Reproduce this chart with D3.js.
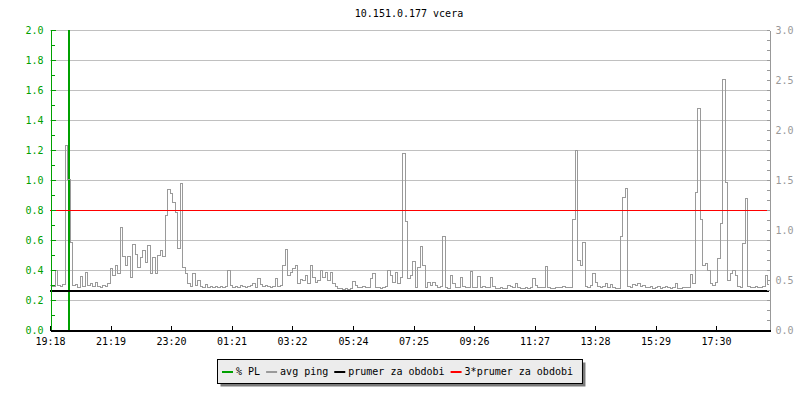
<!DOCTYPE html>
<html><head><meta charset="utf-8">
<script src="https://cdn.jsdelivr.net/npm/d3@7"></script>
<style>
body{margin:0;background:#fff}
svg{display:block}
text{font-family:"DejaVu Sans Mono",monospace;font-size:10px}
</style></head><body>
<svg id="chart" width="800" height="400"></svg>
<script>
// ---------------- data ----------------
const title = "10.151.0.177 vcera";
const xTickLabels = ["19:18","21:19","23:20","01:21","03:22","05:24","07:25","09:26","11:27","13:28","15:29","17:30"];
const periodMinutes = 1440;
const sampleMinutes = 5;
const leftTicks = [0.0,0.2,0.4,0.6,0.8,1.0,1.2,1.4,1.6,1.8,2.0];
const rightTicks = [0.0,0.5,1.0,1.5,2.0,2.5,3.0];
const legendLabels = ["% PL","avg ping","prumer za obdobi","3*prumer za obdobi"];
const pingMean = 0.4;
// avg ping, one value per 5 minutes (right axis)
const avgPing = [
0.45,0.44,0.60,0.45,0.44,0.46,1.85,1.51,0.88,0.45,
0.46,0.43,0.54,0.44,0.58,0.45,0.47,0.44,0.48,0.44,
0.43,0.45,0.44,0.47,0.62,0.55,0.65,0.57,1.03,0.74,
0.65,0.74,0.53,0.86,0.76,0.63,0.73,0.80,0.68,0.85,
0.57,0.73,0.57,0.75,0.80,0.74,1.15,1.41,1.37,1.28,
1.18,0.82,1.47,0.63,0.57,0.47,0.44,0.57,0.45,0.50,
0.44,0.43,0.46,0.43,0.44,0.43,0.44,0.43,0.44,0.43,
0.44,0.60,0.45,0.43,0.44,0.43,0.45,0.44,0.43,0.44,
0.45,0.47,0.43,0.52,0.46,0.44,0.45,0.44,0.43,0.44,
0.52,0.44,0.45,0.65,0.81,0.55,0.58,0.62,0.65,0.47,
0.51,0.50,0.55,0.47,0.65,0.53,0.48,0.50,0.60,0.53,
0.58,0.50,0.58,0.47,0.44,0.42,0.42,0.41,0.42,0.41,
0.42,0.49,0.45,0.43,0.43,0.44,0.43,0.43,0.52,0.57,
0.43,0.43,0.42,0.43,0.44,0.60,0.55,0.48,0.58,0.47,
0.53,1.77,1.09,0.52,0.55,0.69,0.43,0.63,0.84,0.65,
0.43,0.48,0.45,0.48,0.45,0.43,0.44,0.94,0.43,0.42,
0.55,0.47,0.43,0.43,0.53,0.44,0.43,0.43,0.59,0.43,
0.43,0.54,0.43,0.44,0.43,0.43,0.53,0.44,0.42,0.42,
0.43,0.42,0.42,0.45,0.44,0.43,0.47,0.43,0.42,0.42,
0.43,0.42,0.43,0.52,0.45,0.43,0.43,0.43,0.64,0.43,
0.42,0.42,0.43,0.43,0.43,0.44,0.43,0.43,0.43,1.11,
1.80,0.70,0.65,0.88,0.44,0.43,0.45,0.57,0.48,0.44,
0.43,0.44,0.47,0.43,0.46,0.43,0.42,0.42,0.94,1.33,
1.42,0.44,0.43,0.46,0.45,0.47,0.44,0.45,0.43,0.43,
0.44,0.42,0.43,0.44,0.42,0.43,0.44,0.43,0.42,0.43,
0.47,0.42,0.42,0.43,0.43,0.43,0.56,0.47,1.38,2.22,
1.11,0.65,0.67,0.60,0.47,0.45,0.48,0.72,1.07,2.51,
1.48,0.50,0.57,0.60,0.55,0.44,0.43,0.87,1.32,0.44,
0.43,0.43,0.44,0.43,0.43,0.44,0.55,0.46
];
// packet loss %, one value per 5 minutes (left axis)
const packetLoss = [
0,0,0,0,0,0,0,25,0,0, 0,0,0,0,0,0,0,0,0,0, 0,0,0,0,0,0,0,0,0,0,
0,0,0,0,0,0,0,0,0,0, 0,0,0,0,0,0,0,0,0,0, 0,0,0,0,0,0,0,0,0,0,
0,0,0,0,0,0,0,0,0,0, 0,0,0,0,0,0,0,0,0,0, 0,0,0,0,0,0,0,0,0,0,
0,0,0,0,0,0,0,0,0,0, 0,0,0,0,0,0,0,0,0,0, 0,0,0,0,0,0,0,0,0,0,
0,0,0,0,0,0,0,0,0,0, 0,0,0,0,0,0,0,0,0,0, 0,0,0,0,0,0,0,0,0,0,
0,0,0,0,0,0,0,0,0,0, 0,0,0,0,0,0,0,0,0,0, 0,0,0,0,0,0,0,0,0,0,
0,0,0,0,0,0,0,0,0,0, 0,0,0,0,0,0,0,0,0,0, 0,0,0,0,0,0,0,0,0,0,
0,0,0,0,0,0,0,0,0,0, 0,0,0,0,0,0,0,0,0,0, 0,0,0,0,0,0,0,0,0,0,
0,0,0,0,0,0,0,0,0,0, 0,0,0,0,0,0,0,0,0,0, 0,0,0,0,0,0,0,0,0,0,
0,0,0,0,0,0,0,0,0,0, 0,0,0,0,0,0,0,0
];

// ---------------- styles ----------------
const C = {green:"#00a000", ping:"#9a9a9a", mean:"#000000", red:"#ff0000",
           grid:"#c0c0c0", rightAxis:"#999999", legendBg:"#ececec", shadow:"#7a7a7a"};
const M = {left:50, right:770, top:30, bottom:330};

const svg = d3.select("#chart");

function minutesOf(label){
  const [h,m] = label.split(":").map(Number);
  const [h0,m0] = xTickLabels[0].split(":").map(Number);
  return ((h*60+m) - (h0*60+m0) + 1440) % 1440;
}
const tickMinutes = xTickLabels.map(minutesOf);

const x = d3.scaleLinear().domain([0, periodMinutes]).range([M.left, M.right]);
const yL = d3.scaleLinear().domain([0, 2]).range([M.bottom, M.top]);
const yR = d3.scaleLinear().domain([0, 3]).range([M.bottom, M.top]);

// title
svg.append("text").attr("x", 409).attr("y", 17).attr("text-anchor","middle")
  .attr("fill","#000").text(title);

// grid lines
svg.append("g").selectAll("line").data(leftTicks.filter(d=>d>0)).join("line")
  .attr("x1", M.left).attr("x2", M.right-1)
  .attr("y1", d=>Math.round(yL(d))+0.5).attr("y2", d=>Math.round(yL(d))+0.5)
  .attr("stroke", C.grid).attr("stroke-width",1);

// clip
svg.append("clipPath").attr("id","plot").append("rect")
  .attr("x", M.left).attr("y", M.top).attr("width", M.right-1-M.left).attr("height", M.bottom-M.top);
const plot = svg.append("g").attr("clip-path","url(#plot)");

function stepPoints(arr){
  const pts = arr.map((v,i)=>[i*sampleMinutes, v]);
  pts.push([arr.length*sampleMinutes, arr[arr.length-1]]);
  return pts;
}

// packet loss (thick rrd line: drawn as a filled step so a single-sample spike is one narrow column)
plot.append("path").datum(stepPoints(packetLoss))
  .attr("d", d3.area().x(d=>x(d[0])).y0(yL(0)).y1(d=>yL(d[1])).curve(d3.curveStepAfter))
  .attr("fill",C.green).attr("stroke","none").attr("shape-rendering","crispEdges");

// avg ping
plot.append("path").datum(stepPoints(avgPing))
  .attr("d", d3.line().x(d=>x(d[0])).y(d=>yR(d[1])).curve(d3.curveStepAfter))
  .attr("fill","none").attr("stroke",C.ping).attr("stroke-width",1)
  .attr("shape-rendering","crispEdges");

// mean and 3*mean
plot.append("line").attr("x1",M.left).attr("x2",M.right)
  .attr("y1", yR(pingMean)+1).attr("y2", yR(pingMean)+1)
  .attr("stroke",C.mean).attr("stroke-width",2);
plot.append("line").attr("x1",M.left).attr("x2",M.right)
  .attr("y1", yR(3*pingMean)+0.5).attr("y2", yR(3*pingMean)+0.5)
  .attr("stroke",C.red).attr("stroke-width",1);

// left axis
const leftMinor = d3.range(1,20,2).map(d=>d/10);
const gL = svg.append("g").attr("transform",`translate(${M.left+0.5},0)`);
gL.append("g").call(d3.axisLeft(yL).tickValues(leftMinor).tickSize(-4).tickSizeOuter(0).tickFormat(""));
gL.append("g").call(d3.axisLeft(yL).tickValues(leftTicks).tickSize(-5).tickSizeOuter(0).tickPadding(7).tickFormat(d3.format(".1f")));
gL.selectAll("path,line").attr("stroke",C.green).attr("shape-rendering","crispEdges");
gL.selectAll("text").attr("fill",C.green).style("font-size","10px").style("font-family",'"DejaVu Sans Mono",monospace');

// right axis
const rightMinor = d3.range(1,30).filter(d=>d%5).map(d=>d/10);
const gR = svg.append("g").attr("transform",`translate(${M.right-0.5},0)`);
gR.append("g").call(d3.axisRight(yR).tickValues(rightMinor).tickSize(-3).tickSizeOuter(0).tickFormat(""));
gR.append("g").call(d3.axisRight(yR).tickValues(rightTicks).tickSize(-3).tickSizeOuter(0).tickPadding(6).tickFormat(d3.format(".1f")));
gR.selectAll("path,line").attr("stroke",C.rightAxis).attr("shape-rendering","crispEdges");
gR.selectAll("text").attr("fill",C.rightAxis).style("font-size","10px").style("font-family",'"DejaVu Sans Mono",monospace');

// bottom axis
const gB = svg.append("g").attr("transform",`translate(0,${M.bottom+0.5})`);
gB.call(d3.axisBottom(x).tickValues(tickMinutes).tickSize(-5).tickSizeOuter(0).tickPadding(7)
  .tickFormat((d,i)=>xTickLabels[i]));
gB.selectAll("path,line").attr("stroke","#000").attr("shape-rendering","crispEdges");
gB.select("path").attr("stroke-width",1.5);
gB.selectAll("text").attr("fill","#000").style("font-size","10px").style("font-family",'"DejaVu Sans Mono",monospace');

// legend
const legendColors = [C.green, C.ping, C.mean, C.red];
const lg = svg.append("g");
const shadow = lg.append("rect").attr("fill",C.shadow);
const box = lg.append("rect").attr("fill",C.legendBg).attr("stroke","#000").attr("stroke-width",1);
let cx = 222;
const itemsG = lg.append("g");
legendLabels.forEach((lab,i)=>{
  itemsG.append("line").attr("x1",cx).attr("x2",cx+11).attr("y1",372).attr("y2",372)
    .attr("stroke",legendColors[i]).attr("stroke-width",2);
  const t = itemsG.append("text").attr("x",cx+14).attr("y",375).attr("fill","#000").text(lab);
  const w = t.node().getComputedTextLength();
  cx = cx + 14 + w + 6;
});
const bx0 = 217.5, bx1 = cx + 3.5;
shadow.attr("x",bx0+3).attr("y",359.5+3).attr("width",bx1-bx0).attr("height",24);
box.attr("x",bx0).attr("y",359.5).attr("width",bx1-bx0).attr("height",24);
</script>
</body></html>
